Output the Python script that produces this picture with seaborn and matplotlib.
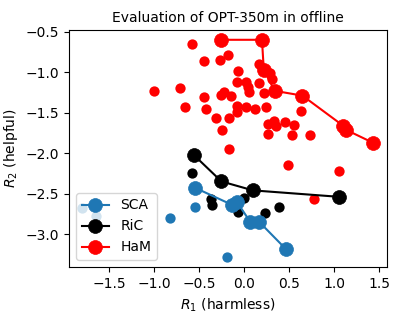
import matplotlib
matplotlib.use("Agg")
import matplotlib.pyplot as plt
import seaborn as sns

# ---- data ----
methods = ["SCA", "RiC", "HaM"]
colors = ["#1f77b4", "black", "red"]

# frontier lines (connected markers)
sca_line_x = [-0.54, -0.13, -0.08, 0.07, 0.17, 0.47]
sca_line_y = [-2.43, -2.64, -2.60, -2.85, -2.85, -3.19]
ric_line_x = [-0.56, -0.25, 0.10, 1.06]
ric_line_y = [-2.02, -2.35, -2.46, -2.54]
ham_line_x = [-0.26, 0.20, 0.22, 0.34, 0.65, 1.10, 1.13, 1.43]
ham_line_y = [-0.60, -0.60, -0.97, -1.23, -1.29, -1.66, -1.71, -1.87]

# scattered points
sca_pts_x = [-0.54, -0.82, -0.19, -1.80, -1.64]
sca_pts_y = [-2.66, -2.80, -3.28, -2.68, -2.78]
ric_pts_x = [-0.58, -0.37, -0.35, 0.00, -0.07, 0.23, 0.39]
ric_pts_y = [-2.24, -2.57, -2.64, -2.55, -2.73, -2.74, -2.67]
ham_pts_x = [-0.58, -0.44, -0.27, -0.18, 0.17, 0.22, 0.29, 0.31, -0.07, -0.08,
             0.02, 0.05, 0.06, 0.17, 0.22, -1.00, -0.71, -0.66, -0.44, -0.42,
             -0.31, -0.24, -0.26, -0.22, -0.14, -0.17, -0.08, -0.08, 0.02, 0.12,
             0.24, 0.63, 0.27, 0.33, 0.36, 0.46, 0.56, 0.27, 0.53, 0.73,
             -0.17, 0.49, 1.06, 0.78]
ham_pts_y = [-0.65, -0.86, -0.85, -0.79, -0.90, -0.99, -1.01, -1.08, -0.99, -1.12,
             -1.12, -1.18, -1.24, -1.13, -1.26, -1.23, -1.19, -1.43, -1.31, -1.46,
             -1.56, -1.71, -1.28, -1.25, -1.29, -1.56, -1.42, -1.49, -1.43, -1.46,
             -1.43, -1.48, -1.64, -1.60, -1.66, -1.61, -1.65, -1.76, -1.78, -1.78,
             -1.95, -2.15, -2.22, -2.57]

lines = [(sca_line_x, sca_line_y), (ric_line_x, ric_line_y), (ham_line_x, ham_line_y)]
pts = [(sca_pts_x, sca_pts_y), (ric_pts_x, ric_pts_y), (ham_pts_x, ham_pts_y)]

fig, ax = plt.subplots(figsize=(4, 3.2), dpi=100)
fig.subplots_adjust(left=0.1725, right=0.9675, top=0.906, bottom=0.166)

for name, c, (lx, ly), (px, py) in zip(methods, colors, lines, pts):
    sns.scatterplot(x=px, y=py, color=c, s=55, linewidth=0, ax=ax, zorder=1)
    sns.lineplot(x=lx, y=ly, sort=False, estimator=None, color=c, marker="o",
                 markersize=10, markeredgecolor=c, markeredgewidth=0.5,
                 linewidth=1.5, label=name, ax=ax, zorder=2)

ax.set_title("Evaluation of OPT-350m in offline", fontsize=10)
ax.set_xlabel("$R_1$ (harmless)")
ax.set_ylabel("$R_2$ (helpful)")
ax.set_xticks([-1.5, -1.0, -0.5, 0.0, 0.5, 1.0, 1.5])
ax.set_yticks([-3.0, -2.5, -2.0, -1.5, -1.0, -0.5])
ax.set_xlim(-1.944, 1.589)
ax.set_ylim(-3.405, -0.48)
ax.legend(loc="lower left")

fig.savefig("out.png", dpi=100)
